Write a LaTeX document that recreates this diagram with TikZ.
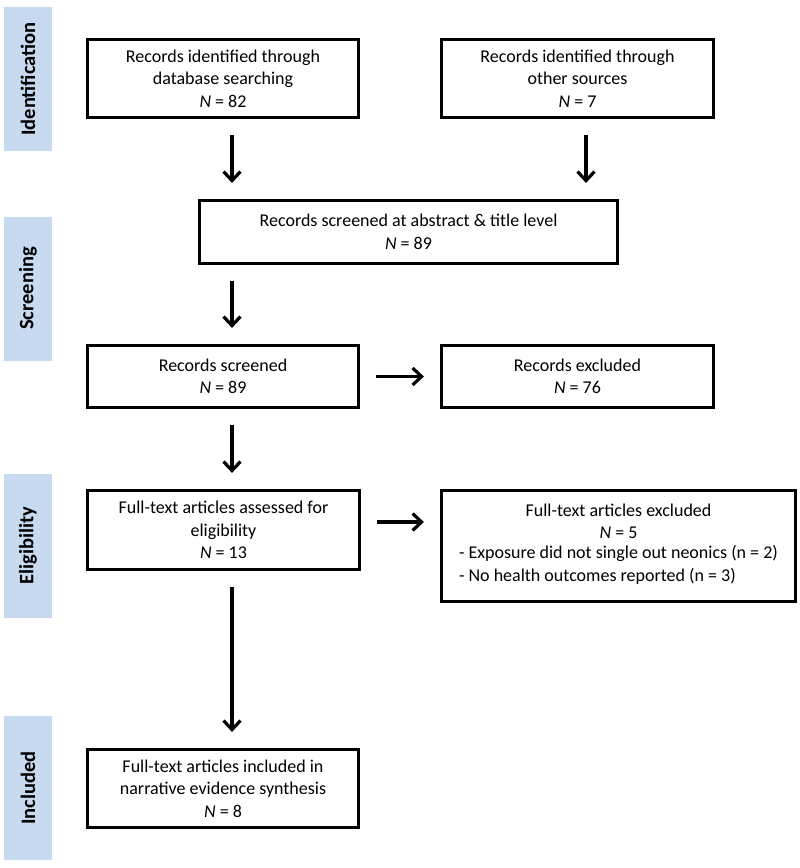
\documentclass[tikz,border=0pt]{standalone}
\usepackage{fontspec}
\setmainfont{Carlito}
\usetikzlibrary{arrows.meta}
\definecolor{stagefill}{RGB}{200,218,240}

\begin{document}
\begin{tikzpicture}[x=1pt,y=-1pt,
  box/.style={draw=black,line width=3.2pt,align=center,inner sep=0pt,font=\fontsize{18}{22.5}\selectfont},
  stage/.style={fill=stagefill,minimum width=48pt,minimum height=144pt,inner sep=0pt},
  stagetext/.style={rotate=90,font=\fontsize{20.5}{24}\selectfont\bfseries},
  arr/.style={line width=3.2pt,-{Straight Barb[length=9pt,width=17pt]},shorten <=16pt,shorten >=16pt}]
\useasboundingbox (0,0) rectangle (800,868);
% stage bars
\foreach \name/\y in {Identification/79,Screening/288.5,Eligibility/545.5,Included/788}
\node[stage] (s\name) at (28,\y) {} node[stagetext] at (28,\y) {\name};
% boxes
\node[box,minimum width=271,minimum height=78] (b1) at (223,78.5) {Records identified through\\database searching\\\textit{N} = 82};
\node[box,minimum width=272,minimum height=78] (b2) at (577.5,78.5) {Records identified through\\other sources\\\textit{N} = 7};
\node[box,minimum width=418,minimum height=63] (b3) at (408.5,232) {Records screened at abstract \& title level\\\textit{N} = 89};
\node[box,minimum width=271,minimum height=62] (b4) at (223,376.5) {Records screened\\\textit{N} = 89};
\node[box,minimum width=272,minimum height=62] (e1) at (577.5,376.5) {Records excluded\\\textit{N} = 76};
\node[box,minimum width=272,minimum height=79] (b5) at (223.5,530) {Full-text articles assessed for\\eligibility\\\textit{N} = 13};
\node[box,minimum width=354,minimum height=111] (e2) at (618.5,546) {Full-text articles excluded\\\textit{N} = 5\\[3pt]
  \begin{tabular}{@{}l@{}}- Exposure did not single out neonics (n = 2)\\- No health outcomes reported (n = 3)\end{tabular}};
\node[box,minimum width=271,minimum height=78] (b6) at (223,788.5) {Full-text articles included in\\narrative evidence synthesis\\\textit{N} = 8};
% arrows
\coordinate (colL) at (232,0);
\coordinate (colR) at (586,0);
\coordinate (rowE) at (0,522);
\draw[arr] (b1.south -| colL) -- (b3.north -| colL);
\draw[arr] (b2.south -| colR) -- (b3.north -| colR);
\draw[arr] (b3.south -| colL) -- (b4.north -| colL);
\draw[arr] (b4.south -| colL) -- (b5.north -| colL);
\draw[arr] (b5.south -| colL) -- (b6.north -| colL);
\draw[arr] (b4.east) -- (e1.west);
\draw[arr] (b5.east |- rowE) -- (e2.west |- rowE);
\end{tikzpicture}
\end{document}
